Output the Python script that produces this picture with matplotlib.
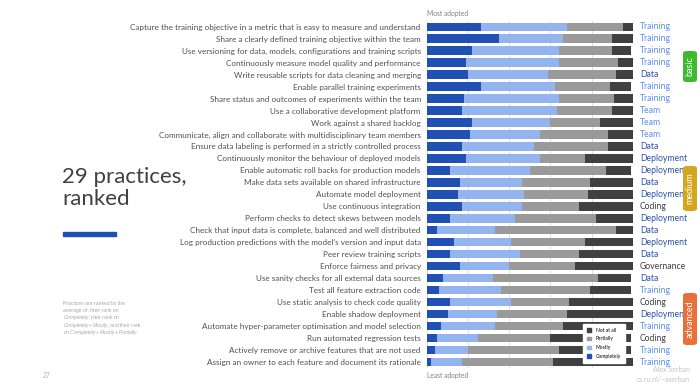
import matplotlib.pyplot as plt
import matplotlib.patches as mpatches
from matplotlib.transforms import blended_transform_factory
from matplotlib.patches import FancyBboxPatch

# --- Data (percent of respondents per adoption level) ---
practices = [
    'Capture the training objective in a metric that is easy to measure and understand',
    'Share a clearly defined training objective within the team',
    'Use versioning for data, models, configurations and training scripts',
    'Continuously measure model quality and performance',
    'Write reusable scripts for data cleaning and merging',
    'Enable parallel training experiments',
    'Share status and outcomes of experiments within the team',
    'Use a collaborative development platform',
    'Work against a shared backlog',
    'Communicate, align and collaborate with multidisciplinary team members',
    'Ensure data labeling is performed in a strictly controlled process',
    'Continuously monitor the behaviour of deployed models',
    'Enable automatic roll backs for production models',
    'Make data sets available on shared infrastructure',
    'Automate model deployment',
    'Use continuous integration',
    'Perform checks to detect skews between models',
    'Check that input data is complete, balanced and well distributed',
    "Log production predictions with the model\u2019s version and input data",
    'Peer review training scripts',
    'Enforce fairness and privacy',
    'Use sanity checks for all external data sources',
    'Test all feature extraction code',
    'Use static analysis to check code quality',
    'Enable shadow deployment',
    'Automate hyper-parameter optimisation and model selection',
    'Run automated regression tests',
    'Actively remove or archive features that are not used',
    'Assign an owner to each feature and document its rationale',
]
categories = ['Training', 'Training', 'Training', 'Training', 'Data', 'Training', 'Training',
              'Team', 'Team', 'Team', 'Data', 'Deployment', 'Deployment', 'Data', 'Deployment',
              'Coding', 'Deployment', 'Data', 'Deployment', 'Data', 'Governance', 'Data',
              'Training', 'Coding', 'Deployment', 'Training', 'Coding', 'Training', 'Training']
completely = [26, 35, 22, 19, 20, 26, 18, 17, 22, 21, 17, 19, 11, 16, 15,
              17, 11, 5, 13, 11, 16, 8, 6, 11, 10, 7, 5, 4, 2]
mostly = [42, 31, 42, 45, 39, 36, 46, 46, 38, 34, 35, 36, 39, 30, 32,
          29, 32, 28, 28, 34, 24, 24, 30, 30, 24, 26, 20, 16, 15]
partially = [27, 24, 26, 29, 33, 27, 27, 27, 24, 33, 36, 22, 37, 33, 31,
             28, 39, 59, 36, 29, 32, 51, 43, 28, 34, 33, 35, 44, 44]
not_at_all = [5, 10, 9, 7, 8, 10, 9, 10, 16, 12, 12, 24, 12, 21, 22,
              27, 18, 8, 23, 26, 28, 16, 20, 31, 32, 34, 39, 35, 39]

levels = ['Completely', 'Mostly', 'Partially', 'Not at all']
level_colors = ['#2150b4', '#94b4f0', '#9a9a9a', '#404040']
cat_colors = {'Training': '#5b8ff0', 'Team': '#5b8ff0', 'Data': '#2a52a8',
              'Deployment': '#2a52a8', 'Coding': '#404040', 'Governance': '#404040'}

plt.rcParams['font.family'] = ['Lato', 'DejaVu Sans']
plt.rcParams['mathtext.fontset'] = 'custom'
plt.rcParams['mathtext.rm'] = 'Liberation Sans'
plt.rcParams['mathtext.it'] = 'Liberation Sans:italic'

fig = plt.figure(figsize=(7, 3.87), dpi=100)
ax = fig.add_axes([0.61, 0.049, 0.294, 0.8975])

y = list(range(len(practices)))
left = [0] * len(practices)
for vals, lab, col in zip([completely, mostly, partially, not_at_all], levels, level_colors):
    ax.barh(y, vals, left=left, height=0.7, color=col, label=lab, zorder=2)
    left = [a + b for a, b in zip(left, vals)]

ax.set_xlim(0, 100)
ax.set_ylim(len(practices) - 0.5, -0.5)
ax.set_xticks([0, 20, 40, 60, 80, 100])
ax.set_xticklabels([])
ax.grid(axis='x', color='#d9d9d9', linewidth=0.6, zorder=0)
ax.tick_params(axis='both', length=0)
ax.set_yticks(y)
ax.set_yticklabels(practices, fontsize=5.9, color='#505050')
ax.tick_params(axis='y', pad=4.5)
for s in ax.spines.values():
    s.set_visible(False)

# category labels on the right
tr = blended_transform_factory(ax.transAxes, ax.transData)
for i, c in enumerate(categories):
    ax.text(1.034, i, c, transform=tr, fontsize=6.2, color=cat_colors[c], va='center', ha='left')

ax.text(0, -0.85, 'Most adopted', transform=tr, fontsize=4.8, color='#808080', va='bottom', ha='left')
ax.text(0, 28.85, 'Least adopted', transform=tr, fontsize=4.8, color='#808080', va='top', ha='left')

# legend
handles = [mpatches.Patch(color=c, label=l) for l, c in zip(levels, level_colors)][::-1]
leg = ax.legend(handles=handles, loc='lower right', bbox_to_anchor=(0.976, 0.008),
                fontsize=3.6, frameon=True, fancybox=False, edgecolor='white',
                framealpha=1, handlelength=0.7, handleheight=0.7, labelspacing=0.75,
                borderpad=0.8, handletextpad=1.0)
leg.set_zorder(5)

# title block on the left
fig.text(62 / 700, 1 - 167 / 387, '29 practices,\nranked', fontsize=16, color='#404040',
         va='top', ha='left', linespacing=1.12)
fig.patches.append(mpatches.Rectangle((63 / 700, 1 - 236 / 387), 53 / 700, 4.5 / 387,
                                      transform=fig.transFigure, color='#1f4fb4'))

# footnote (italic parts via mathtext), one line per text
note_lines = [
    'Practices are ranked by the',
    'average of: their rank on',
    r'$\mathit{Completely}$, their rank on',
    r'$\mathit{Completely+Mostly}$, and their rank',
    r'on $\mathit{Completely+Mostly+Partially}$.',
]
for k, line in enumerate(note_lines):
    fig.text(63 / 700, 1 - (305 + k * 7.2) / 387, line, fontsize=3.6, color='#a6a6a6',
             family='Liberation Sans', va='baseline', ha='left')

fig.text(47 / 700, 1 - 376 / 387, '27', fontsize=4.8, color='#b0b0b0', ha='center', va='center')
fig.text(690 / 700, 1 - 369 / 387, 'Alex Serban', fontsize=5, color='#c4c4c4', ha='right', va='center')
fig.text(690 / 700, 1 - 379 / 387, 'cs.ru.nl/~aserban', fontsize=5, color='#c4c4c4', ha='right', va='center')

# level badges on the right edge
for label, col, y0, y1 in [('basic', '#3dbb2f', 51, 82), ('medium', '#d6a520', 166, 211),
                           ('advanced', '#e8703a', 293, 345)]:
    b = FancyBboxPatch((683 / 700, 1 - y1 / 387), 14 / 700, (y1 - y0) / 387,
                       boxstyle='round,pad=0,rounding_size=0.006', transform=fig.transFigure,
                       facecolor=col, edgecolor='none')
    fig.patches.append(b)
    fig.text(690 / 700, 1 - (y0 + y1) / 2 / 387, label, rotation=90, fontsize=6.5,
             color='white', ha='center', va='center')

fig.savefig('out.png', dpi=100)
